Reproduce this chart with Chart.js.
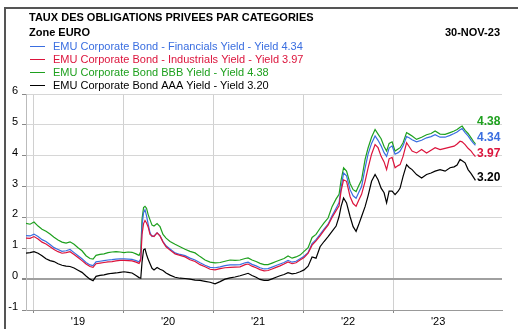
<!DOCTYPE html>
<html>
<head>
<meta charset="utf-8">
<script src="https://cdn.jsdelivr.net/npm/chart.js@4.4.1/dist/chart.umd.min.js"></script>
<style>
  html, body { margin: 0; padding: 0; background: #fff; }
  canvas { display: block; }
</style>
</head>
<body>
<canvas id="chart" width="518" height="329"></canvas>
<script>
// Dates as decimal years (30-Nov-18 .. 30-Nov-23)
const dates = [
  2018.922, 2018.967, 2019.011, 2019.056, 2019.100, 2019.144, 2019.189, 2019.233, 2019.278, 2019.322,
  2019.367, 2019.411, 2019.456, 2019.500, 2019.544, 2019.589, 2019.633, 2019.667, 2019.700, 2019.744,
  2019.789, 2019.833, 2019.878, 2019.922, 2019.967, 2020.011, 2020.056, 2020.100, 2020.144, 2020.178,
  2020.197, 2020.211, 2020.228, 2020.244, 2020.261, 2020.278, 2020.300, 2020.322, 2020.344, 2020.378,
  2020.411, 2020.444, 2020.478, 2020.522, 2020.578, 2020.633, 2020.689, 2020.744, 2020.800, 2020.856,
  2020.911, 2020.967, 2021.022, 2021.078, 2021.133, 2021.189, 2021.244, 2021.300, 2021.356, 2021.389,
  2021.433, 2021.478, 2021.522, 2021.567, 2021.611, 2021.656, 2021.700, 2021.744, 2021.789, 2021.833,
  2021.878, 2021.922, 2021.967, 2022.011, 2022.056, 2022.100, 2022.144, 2022.189, 2022.233, 2022.278,
  2022.322, 2022.367, 2022.400, 2022.422, 2022.450, 2022.483, 2022.522, 2022.556, 2022.589, 2022.617,
  2022.650, 2022.689, 2022.722, 2022.761, 2022.800, 2022.833, 2022.867, 2022.900, 2022.928, 2022.956,
  2022.989, 2023.022, 2023.056, 2023.078, 2023.111, 2023.150, 2023.178, 2023.211, 2023.261, 2023.317,
  2023.372, 2023.422, 2023.467, 2023.522, 2023.578, 2023.633, 2023.678, 2023.711, 2023.744, 2023.767,
  2023.800, 2023.833, 2023.867, 2023.894, 2023.915
];

const financials = [
  1.41, 1.40, 1.46, 1.38, 1.28, 1.22, 1.12, 1.02, 0.96, 0.90,
  0.92, 0.96, 0.86, 0.76, 0.66, 0.54, 0.46, 0.44, 0.56, 0.58,
  0.60, 0.62, 0.63, 0.65, 0.66, 0.66, 0.65, 0.64, 0.60, 0.56,
  0.66, 1.75, 2.15, 2.25, 2.05, 1.80, 1.50, 1.38, 1.40, 1.50,
  1.40, 1.22, 1.08, 0.98, 0.85, 0.80, 0.76, 0.68, 0.62, 0.53,
  0.45, 0.38, 0.37, 0.40, 0.44, 0.46, 0.46, 0.47, 0.53, 0.55,
  0.48, 0.43, 0.37, 0.33, 0.34, 0.39, 0.44, 0.49, 0.54, 0.61,
  0.55, 0.58, 0.66, 0.74, 0.86, 1.15, 1.28, 1.45, 1.62, 1.78,
  2.05, 2.30, 2.48, 2.95, 3.44, 3.35, 2.90, 2.70, 2.62, 2.80,
  3.00, 3.60, 4.05, 4.40, 4.64, 4.50, 4.32, 4.10, 3.98, 4.25,
  4.32, 4.05, 4.10, 4.15, 4.32, 4.62, 4.58, 4.52, 4.45, 4.50,
  4.58, 4.62, 4.68, 4.60, 4.60, 4.66, 4.72, 4.77, 4.84, 4.88,
  4.75, 4.64, 4.50, 4.40, 4.34
];

const industrials = [
  1.33, 1.32, 1.38, 1.30, 1.20, 1.14, 1.05, 0.96, 0.89, 0.84,
  0.86, 0.89, 0.80, 0.70, 0.60, 0.49, 0.41, 0.38, 0.50, 0.52,
  0.54, 0.56, 0.57, 0.59, 0.61, 0.61, 0.60, 0.59, 0.55, 0.51,
  0.62, 1.45, 1.80, 1.90, 1.82, 1.70, 1.45, 1.40, 1.38, 1.50,
  1.40, 1.20, 1.05, 0.94, 0.82, 0.77, 0.72, 0.63, 0.57, 0.47,
  0.40, 0.32, 0.30, 0.34, 0.37, 0.38, 0.39, 0.40, 0.47, 0.49,
  0.42, 0.37, 0.31, 0.27, 0.28, 0.33, 0.38, 0.43, 0.49, 0.56,
  0.50, 0.53, 0.62, 0.70, 0.84, 1.10, 1.24, 1.40, 1.58, 1.75,
  2.00, 2.22, 2.38, 2.85, 3.22, 3.17, 2.68, 2.45, 2.36, 2.55,
  2.75, 3.17, 3.60, 4.05, 4.36, 4.26, 3.98, 3.80, 3.55, 3.90,
  3.95, 3.61, 3.68, 3.71, 3.98, 4.42, 4.30, 4.15, 4.09, 4.20,
  4.09, 4.18, 4.26, 4.20, 4.24, 4.28, 4.31, 4.38, 4.47, 4.45,
  4.36, 4.24, 4.15, 4.04, 3.97
];

const bbb = [
  1.81, 1.78, 1.85, 1.72, 1.62, 1.55, 1.46, 1.36, 1.27, 1.20,
  1.17, 1.21, 1.13, 1.02, 0.92, 0.76, 0.67, 0.65, 0.77, 0.80,
  0.82, 0.86, 0.88, 0.89, 0.88, 0.86, 0.88, 0.87, 0.82, 0.77,
  0.90, 1.95, 2.32, 2.36, 2.30, 2.10, 1.92, 1.75, 1.72, 1.80,
  1.70, 1.45, 1.33, 1.22, 1.13, 1.05, 0.97, 0.90, 0.85, 0.73,
  0.62, 0.55, 0.53, 0.54, 0.58, 0.62, 0.61, 0.62, 0.67, 0.69,
  0.62, 0.57, 0.51, 0.47, 0.47, 0.52, 0.57, 0.62, 0.67, 0.75,
  0.68, 0.72, 0.78, 0.90, 1.02, 1.35, 1.45, 1.65, 1.82, 1.98,
  2.35, 2.60, 2.75, 3.20, 3.61, 3.50, 3.10, 2.90, 2.84, 3.02,
  3.22, 3.88, 4.25, 4.60, 4.85, 4.70, 4.55, 4.30, 4.15, 4.40,
  4.45, 4.15, 4.22, 4.26, 4.42, 4.75, 4.70, 4.64, 4.53, 4.60,
  4.68, 4.72, 4.80, 4.70, 4.69, 4.75, 4.80, 4.85, 4.92, 4.96,
  4.82, 4.72, 4.58, 4.46, 4.38
];

const aaa = [
  0.84, 0.86, 0.89, 0.84, 0.76, 0.66, 0.60, 0.57, 0.50, 0.45,
  0.42, 0.41, 0.36, 0.29, 0.22, 0.10, 0.00, -0.05, 0.09, 0.12,
  0.14, 0.17, 0.19, 0.20, 0.22, 0.24, 0.22, 0.20, 0.12, 0.05,
  0.03, 0.55, 0.95, 0.98, 0.80, 0.65, 0.50, 0.35, 0.30, 0.38,
  0.32, 0.28, 0.20, 0.13, 0.06, 0.03, 0.02, 0.00, -0.03, -0.04,
  -0.07, -0.10, -0.15, -0.08, 0.00, 0.04, 0.07, 0.11, 0.16, 0.19,
  0.12, 0.06, -0.01, -0.04, -0.04, 0.01, 0.06, 0.11, 0.15, 0.21,
  0.17, 0.19, 0.24, 0.30, 0.42, 0.72, 0.68, 1.05, 1.22, 1.38,
  1.55, 1.72, 2.03, 2.35, 2.63, 2.47, 2.03, 1.70, 1.55, 1.76,
  2.03, 2.35, 2.70, 3.17, 3.39, 3.22, 2.95, 2.80, 2.47, 2.85,
  2.85, 2.74, 2.85, 2.95, 3.33, 3.71, 3.62, 3.55, 3.39, 3.28,
  3.39, 3.44, 3.50, 3.55, 3.50, 3.61, 3.64, 3.70, 3.88, 3.84,
  3.77, 3.55, 3.42, 3.30, 3.20
];

const seriesNames = [
  "EMU Corporate Bond - Financials Yield - Yield 4.34",
  "EMU Corporate Bond - Industrials Yield - Yield 3.97",
  "EMU Corporate Bond BBB Yield - Yield 4.38",
  "EMU Corporate Bond AAA Yield - Yield 3.20"
];
const lastLabels = ["4.34", "3.97", "4.38", "3.20"];
const yearTicks = [2019, 2020, 2021, 2022, 2023];
const yearLabels = ["'19", "'20", "'21", "'22", "'23"];

const colors = ["#3a6ee0", "#dc143c", "#1ea01e", "#000000"];
const values = [financials, industrials, bbb, aaa];
values.forEach(v => { if (v.length !== dates.length) throw new Error("length mismatch " + v.length); });

const FONT = "'Liberation Sans', Arial, sans-serif";

const header = {
  id: "header",
  afterDraw(chart) {
    const ctx = chart.ctx;
    ctx.save();
    // frame
    ctx.strokeStyle = "#555";
    ctx.lineWidth = 2;
    ctx.beginPath();
    ctx.moveTo(5, 329);
    ctx.lineTo(5, 8);
    ctx.lineTo(518, 8);
    ctx.stroke();

    ctx.fillStyle = "#000";
    ctx.textBaseline = "alphabetic";
    ctx.font = "bold 11px " + FONT;
    ctx.textAlign = "left";
    ctx.fillText("TAUX DES OBLIGATIONS PRIVEES PAR CATEGORIES", 29, 21);
    ctx.fillText("Zone EURO", 29, 36);
    ctx.textAlign = "right";
    ctx.fillText("30-NOV-23", 500, 36);

    // legend
    ctx.textAlign = "left";
    ctx.font = "11px " + FONT;
    seriesNames.forEach((name, i) => {
      const y = 46 + i * 13;
      ctx.strokeStyle = colors[i];
      ctx.lineWidth = 1;
      ctx.beginPath();
      ctx.moveTo(30, y + 0.5);
      ctx.lineTo(45, y + 0.5);
      ctx.stroke();
      ctx.fillStyle = colors[i];
      ctx.fillText(name, 53, y + 4);
    });

    // last value labels, spread so they do not overlap
    const ys = chart.scales.y;
    const items = values.map((v, i) => ({ i, py: ys.getPixelForValue(v[v.length - 1]) }))
      .sort((a, b) => b.py - a.py);
    let prev = Infinity;
    items.forEach(it => {
      it.py = Math.min(it.py, prev - 16);
      prev = it.py;
    });
    ctx.font = "bold 12px " + FONT;
    ctx.textBaseline = "middle";
    items.forEach(it => {
      ctx.fillStyle = colors[it.i];
      ctx.fillText(lastLabels[it.i], 477, it.py - 3);
    });
    ctx.restore();
  }
};

const order = [1, 0, 2, 3];
new Chart(document.getElementById("chart"), {
  type: "line",
  data: {
    datasets: order.map(i => ({
      label: seriesNames[i],
      data: dates.map((d, k) => ({ x: d, y: values[i][k] })),
      borderColor: colors[i],
      borderWidth: 1.2,
      pointRadius: 0,
      tension: 0,
      fill: false
    }))
  },
  options: {
    responsive: false,
    animation: false,
    devicePixelRatio: 1,
    layout: { padding: { top: 94, right: 16, left: 0, bottom: 0 } },
    plugins: { legend: { display: false }, tooltip: { enabled: false } },
    scales: {
      x: {
        type: "linear",
        min: 2018.922,
        max: 2024.21,
        afterBuildTicks: s => {
          s.ticks = [];
          yearTicks.forEach(v => { s.ticks.push({ value: v }); s.ticks.push({ value: v + 0.5 }); });
        },
        afterFit: s => { s.height = 19; },
        grid: {
          color: c => (c.tick && c.tick.value % 1 === 0) ? "#d0d0d0" : "rgba(0,0,0,0)",
          tickColor: c => (c.tick && c.tick.value % 1 === 0) ? "#888" : "rgba(0,0,0,0)",
          tickLength: 3,
          lineWidth: 1
        },
        border: { color: "#999", width: 1 },
        ticks: {
          autoSkip: false,
          maxRotation: 0,
          padding: 2,
          color: "#000",
          font: { family: FONT, size: 11 },
          callback: v => (v % 1 === 0) ? "" : yearLabels[yearTicks.indexOf(Math.floor(v))]
        }
      },
      y: {
        min: -1,
        max: 6,
        afterFit: s => { s.width = 26; },
        grid: {
          color: c => c.tick && c.tick.value === 0 ? "#a0a0a0" : "#d6d6d6",
          lineWidth: c => c.tick && c.tick.value === 0 ? 2 : 1,
          tickColor: "#888",
          tickLength: 4
        },
        border: { color: "#bbb", width: 1 },
        ticks: {
          stepSize: 1,
          padding: 4,
          labelOffset: -3,
          color: "#000",
          font: { family: FONT, size: 11 }
        }
      },
      yMinor: {
        position: "left",
        min: -1,
        max: 6,
        afterFit: s => { s.width = 0; },
        grid: { drawOnChartArea: false, tickLength: 2, tickColor: "#888" },
        border: { display: false },
        ticks: { stepSize: 0.2, callback: () => "", padding: 0 }
      }
    }
  },
  plugins: [header]
});
</script>
</body>
</html>
